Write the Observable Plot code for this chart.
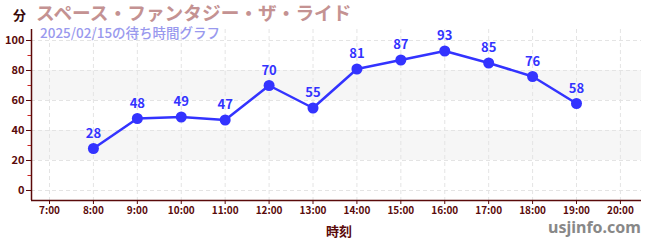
<!DOCTYPE html>
<html><head><meta charset="utf-8">
<script src="https://cdn.jsdelivr.net/npm/d3@7"></script>
<script src="https://cdn.jsdelivr.net/npm/@observablehq/plot@0.6"></script>
<style>
body{margin:0;background:#fff;font-family:"Noto Sans CJK JP","Noto Sans",sans-serif;}
#wrap{position:relative;width:650px;height:250px;}
.t{position:absolute;white-space:nowrap;font-weight:bold;line-height:1;}
</style></head><body>
<div id="wrap"></div>
<script>
const title = "スペース・ファンタジー・ザ・ライド";
const subtitle = "2025/02/15の待ち時間グラフ";
const yLabel = "分";
const xLabel = "時刻";
const credit = "usjinfo.com";
const hours = [8, 9, 10, 11, 12, 13, 14, 15, 16, 17, 18, 19];
const waits = [28, 48, 49, 47, 70, 55, 81, 87, 93, 85, 76, 58];
const xTicks = [7, 8, 9, 10, 11, 12, 13, 14, 15, 16, 17, 18, 19, 20];
const yTicks = [0, 20, 40, 60, 80, 100];
const yMinor = [10, 30, 50, 70, 90];
const bandLo = [20, 60];
const bandHi = [40, 80];

const data = hours.map((h, i) => ({h, w: waits[i]}));
const bands = bandLo.map((a, i) => ({a, b: bandHi[i]}));
const axisColor = "#5a0a0a";
const blue = "#3333ff";
const x0 = 6.59, x1 = 20.48;

const chart = Plot.plot({
  width: 650, height: 250,
  marginLeft: 31, marginRight: 9, marginTop: 29, marginBottom: 50,
  style: {fontFamily: '"Noto Sans CJK JP", sans-serif', fontSize: "11px", color: axisColor, background: "transparent"},
  x: {domain: [x0, x1], ticks: xTicks, tickFormat: d => d + ":00", label: null},
  y: {domain: [-6.67, 107.33], ticks: yTicks, label: null},
  marks: [
    Plot.rectY(bands, {x1: x0, x2: x1, y1: "a", y2: "b", fill: "#f6f6f6"}),
    Plot.gridY(yTicks, {stroke: "#e4e4e4", strokeOpacity: 1, strokeDasharray: "4,3"}),
    Plot.gridX(xTicks, {stroke: "#e4e4e4", strokeOpacity: 1, strokeDasharray: "4,3"}),
    Plot.axisY(yTicks, {tickSize: 5, tickPadding: 2, stroke: axisColor, fill: axisColor, fontWeight: "bold", fontSize: 11}),
    Plot.ruleY(yMinor, {x1: x0 - 0.08, x2: x0, stroke: "#cc2222"}),
    Plot.axisX(xTicks, {tickSize: 4, tickPadding: 2, tickFormat: d => d + ":00", stroke: axisColor, fill: axisColor, fontWeight: "bold", fontSize: 10}),
    Plot.ruleX([x0], {stroke: axisColor, strokeWidth: 1.5}),
    Plot.ruleY([-6.67], {stroke: axisColor, strokeWidth: 1.5}),
    Plot.line(data, {x: "h", y: "w", stroke: blue, strokeWidth: 2.5}),
    Plot.dot(data, {x: "h", y: "w", r: 5.5, fill: blue, stroke: "none"}),
    Plot.text(data, {x: "h", y: "w", text: d => String(d.w), dy: -15, fill: blue, fontWeight: "bold", fontSize: 13})
  ]
});
const wrap = document.getElementById("wrap");
wrap.appendChild(chart);
function add(txt, css){const d=document.createElement("div");d.className="t";d.textContent=txt;Object.assign(d.style,css);wrap.appendChild(d);}
add(yLabel,{left:"13px",top:"8px",fontSize:"13px",color:"#3a0a0a"});
add(title,{left:"36px",top:"3px",fontSize:"18.7px",color:"#c49292"});
add(subtitle,{left:"40px",top:"26px",fontSize:"13.5px",color:"#9999ee",fontWeight:"500"});
add(xLabel,{left:"326px",top:"224px",fontSize:"13px",color:"#5a0a0a"});
add(credit,{left:"548px",top:"219px",fontSize:"16px",color:"#888",fontFamily:"'Noto Sans',sans-serif"});
</script>
</body></html>
